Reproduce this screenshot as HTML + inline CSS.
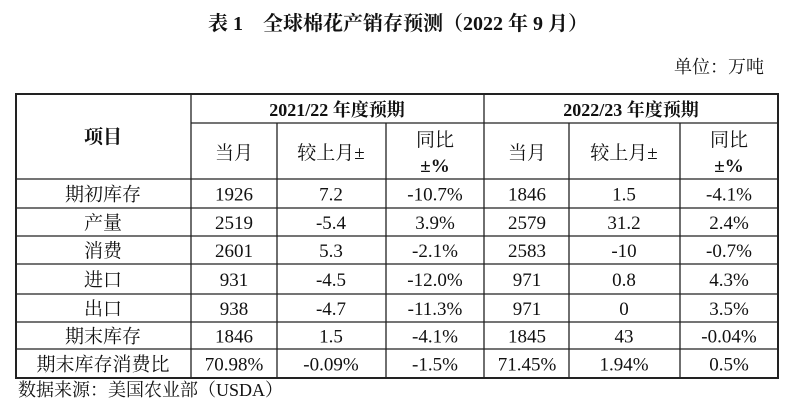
<!DOCTYPE html>
<html><head><meta charset="utf-8"><style>
body{margin:0;background:#fff;width:800px;height:407px;overflow:hidden}
svg text{font-family:"Liberation Serif","Noto Serif CJK SC",serif;fill:#111}
</style></head><body>
<svg width="800" height="407">
<text x="398" y="30" text-anchor="middle" font-size="20" font-weight="bold">表 1　全球棉花产销存预测（2022 年 9 月）</text>
<text x="764" y="73" text-anchor="end" font-size="18">单位：万吨</text>
<g stroke="#222" stroke-width="1.3" fill="none">
<rect x="16" y="94" width="762" height="284" stroke-width="2"/>
<line x1="191" y1="123" x2="778" y2="123"/>
<line x1="16" y1="179" x2="778" y2="179"/>
<line x1="16" y1="208" x2="778" y2="208"/>
<line x1="16" y1="236" x2="778" y2="236"/>
<line x1="16" y1="264" x2="778" y2="264"/>
<line x1="16" y1="294" x2="778" y2="294"/>
<line x1="16" y1="322" x2="778" y2="322"/>
<line x1="16" y1="349" x2="778" y2="349"/>
<line x1="191" y1="94" x2="191" y2="378"/>
<line x1="484" y1="94" x2="484" y2="378"/>
<line x1="277" y1="123" x2="277" y2="378"/>
<line x1="386" y1="123" x2="386" y2="378"/>
<line x1="569" y1="123" x2="569" y2="378"/>
<line x1="680" y1="123" x2="680" y2="378"/>
</g>
<g font-size="19" text-anchor="middle">
<text x="103" y="143" font-weight="bold">项目</text>
<text x="337" y="116" font-weight="bold" font-size="18">2021/22 年度预期</text>
<text x="631" y="116" font-weight="bold" font-size="18">2022/23 年度预期</text>
<text x="234" y="159">当月</text><text x="331" y="159">较上月±</text>
<text x="435" y="146">同比</text><text x="435" y="172" font-weight="bold">±%</text>
<text x="527" y="159">当月</text><text x="624" y="159">较上月±</text>
<text x="729" y="146">同比</text><text x="729" y="172" font-weight="bold">±%</text>
</g>
<g id="body" font-size="19" text-anchor="middle"></g>
<text x="18" y="396" font-size="18">数据来源：美国农业部（USDA）</text>
</svg>
<script>
const rows=[["期初库存","1926","7.2","-10.7%","1846","1.5","-4.1%"],["产量","2519","-5.4","3.9%","2579","31.2","2.4%"],["消费","2601","5.3","-2.1%","2583","-10","-0.7%"],["进口","931","-4.5","-12.0%","971","0.8","4.3%"],["出口","938","-4.7","-11.3%","971","0","3.5%"],["期末库存","1846","1.5","-4.1%","1845","43","-0.04%"],["期末库存消费比","70.98%","-0.09%","-1.5%","71.45%","1.94%","0.5%"]];
const xs=[103,234,331,435,527,624,729];
const ys=[179,208,236,264,294,322,349,378];
const g=document.getElementById('body');
rows.forEach((r,i)=>{r.forEach((v,j)=>{
const t=document.createElementNS('http://www.w3.org/2000/svg','text');


t.setAttribute('x',xs[j]);t.setAttribute('y',(ys[i]+ys[i+1])/2+7);t.textContent=v;g.appendChild(t);});});
</script>
</body></html>
